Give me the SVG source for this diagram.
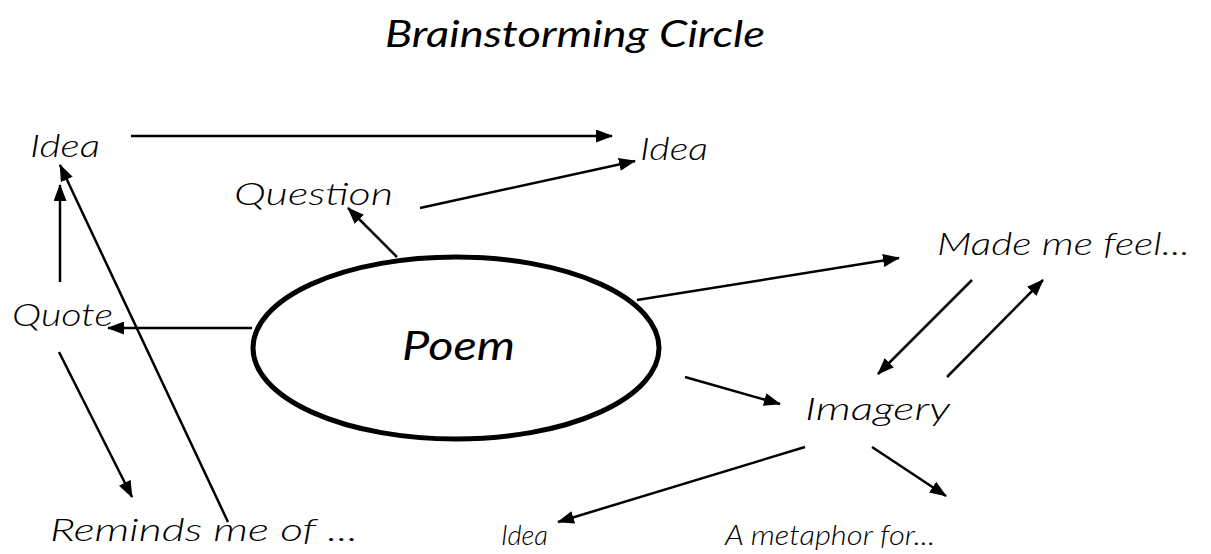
<svg xmlns="http://www.w3.org/2000/svg" width="1211" height="554" viewBox="0 0 1211 554">
<style>
.lbl{font-family:Lato,"Liberation Sans",sans-serif;font-style:italic;font-weight:300;font-size:32px;fill:#000}
.sm{font-size:27px}
.title{font-family:Lato,"Liberation Sans",sans-serif;font-style:italic;font-weight:400;font-size:36px;fill:#000}
.poem{font-family:Lato,"Liberation Sans",sans-serif;font-style:italic;font-weight:400;font-size:40px;fill:#000}
.con line{stroke:#000;stroke-width:2.5;marker-end:url(#ah)}
</style>
<defs>
<marker id="ah" markerUnits="userSpaceOnUse" markerWidth="17" markerHeight="13" refX="16" refY="6.5" orient="auto">
<path d="M0,0 L17,6.5 L0,13 z" fill="#000"/>
</marker>
</defs>
<rect width="1211" height="554" fill="#fff"/>
<g id="title"><text class="title" x="385" y="47" textLength="380" lengthAdjust="spacingAndGlyphs">Brainstorming Circle</text></g>
<g id="poem">
<ellipse cx="456" cy="348" rx="203" ry="91" fill="none" stroke="#000" stroke-width="5"/>
<text class="poem" x="402" y="360" textLength="113" lengthAdjust="spacingAndGlyphs">Poem</text>
</g>
<g id="idea-tl"><text class="lbl" x="30" y="157" textLength="70" lengthAdjust="spacingAndGlyphs">Idea</text></g>
<g id="idea-tr"><text class="lbl" x="640" y="160" textLength="68" lengthAdjust="spacingAndGlyphs">Idea</text></g>
<g id="question"><text class="lbl" x="234" y="205" textLength="159" lengthAdjust="spacingAndGlyphs">Question</text></g>
<g id="made"><text class="lbl" x="937" y="255" textLength="253" lengthAdjust="spacingAndGlyphs">Made me feel...</text></g>
<g id="quote"><text class="lbl" x="12" y="326" textLength="101" lengthAdjust="spacingAndGlyphs">Quote</text></g>
<g id="imagery"><text class="lbl" x="805" y="420" textLength="145" lengthAdjust="spacingAndGlyphs">Imagery</text></g>
<g id="reminds"><text class="lbl" x="50" y="541" textLength="308" lengthAdjust="spacingAndGlyphs">Reminds me of ...</text></g>
<g id="idea-b"><text class="lbl sm" x="501" y="545" textLength="47" lengthAdjust="spacingAndGlyphs">Idea</text></g>
<g id="metaphor"><text class="lbl sm" x="725" y="545" textLength="210" lengthAdjust="spacingAndGlyphs">A metaphor for...</text></g>
<g id="connectors" class="con">
<line x1="131" y1="136" x2="612" y2="136"/>
<line x1="420" y1="208" x2="635" y2="161"/>
<line x1="397" y1="257" x2="348" y2="208"/>
<line x1="637" y1="300" x2="899" y2="258"/>
<line x1="252" y1="328" x2="108" y2="328"/>
<line x1="60" y1="282" x2="60" y2="185"/>
<line x1="228" y1="522" x2="60" y2="165"/>
<line x1="59" y1="352" x2="132" y2="497"/>
<line x1="972" y1="280" x2="878" y2="374"/>
<line x1="947" y1="377" x2="1043" y2="280"/>
<line x1="685" y1="377" x2="780" y2="404"/>
<line x1="805" y1="447" x2="558" y2="522"/>
<line x1="872" y1="447" x2="946" y2="496"/>
</g>
</svg>
